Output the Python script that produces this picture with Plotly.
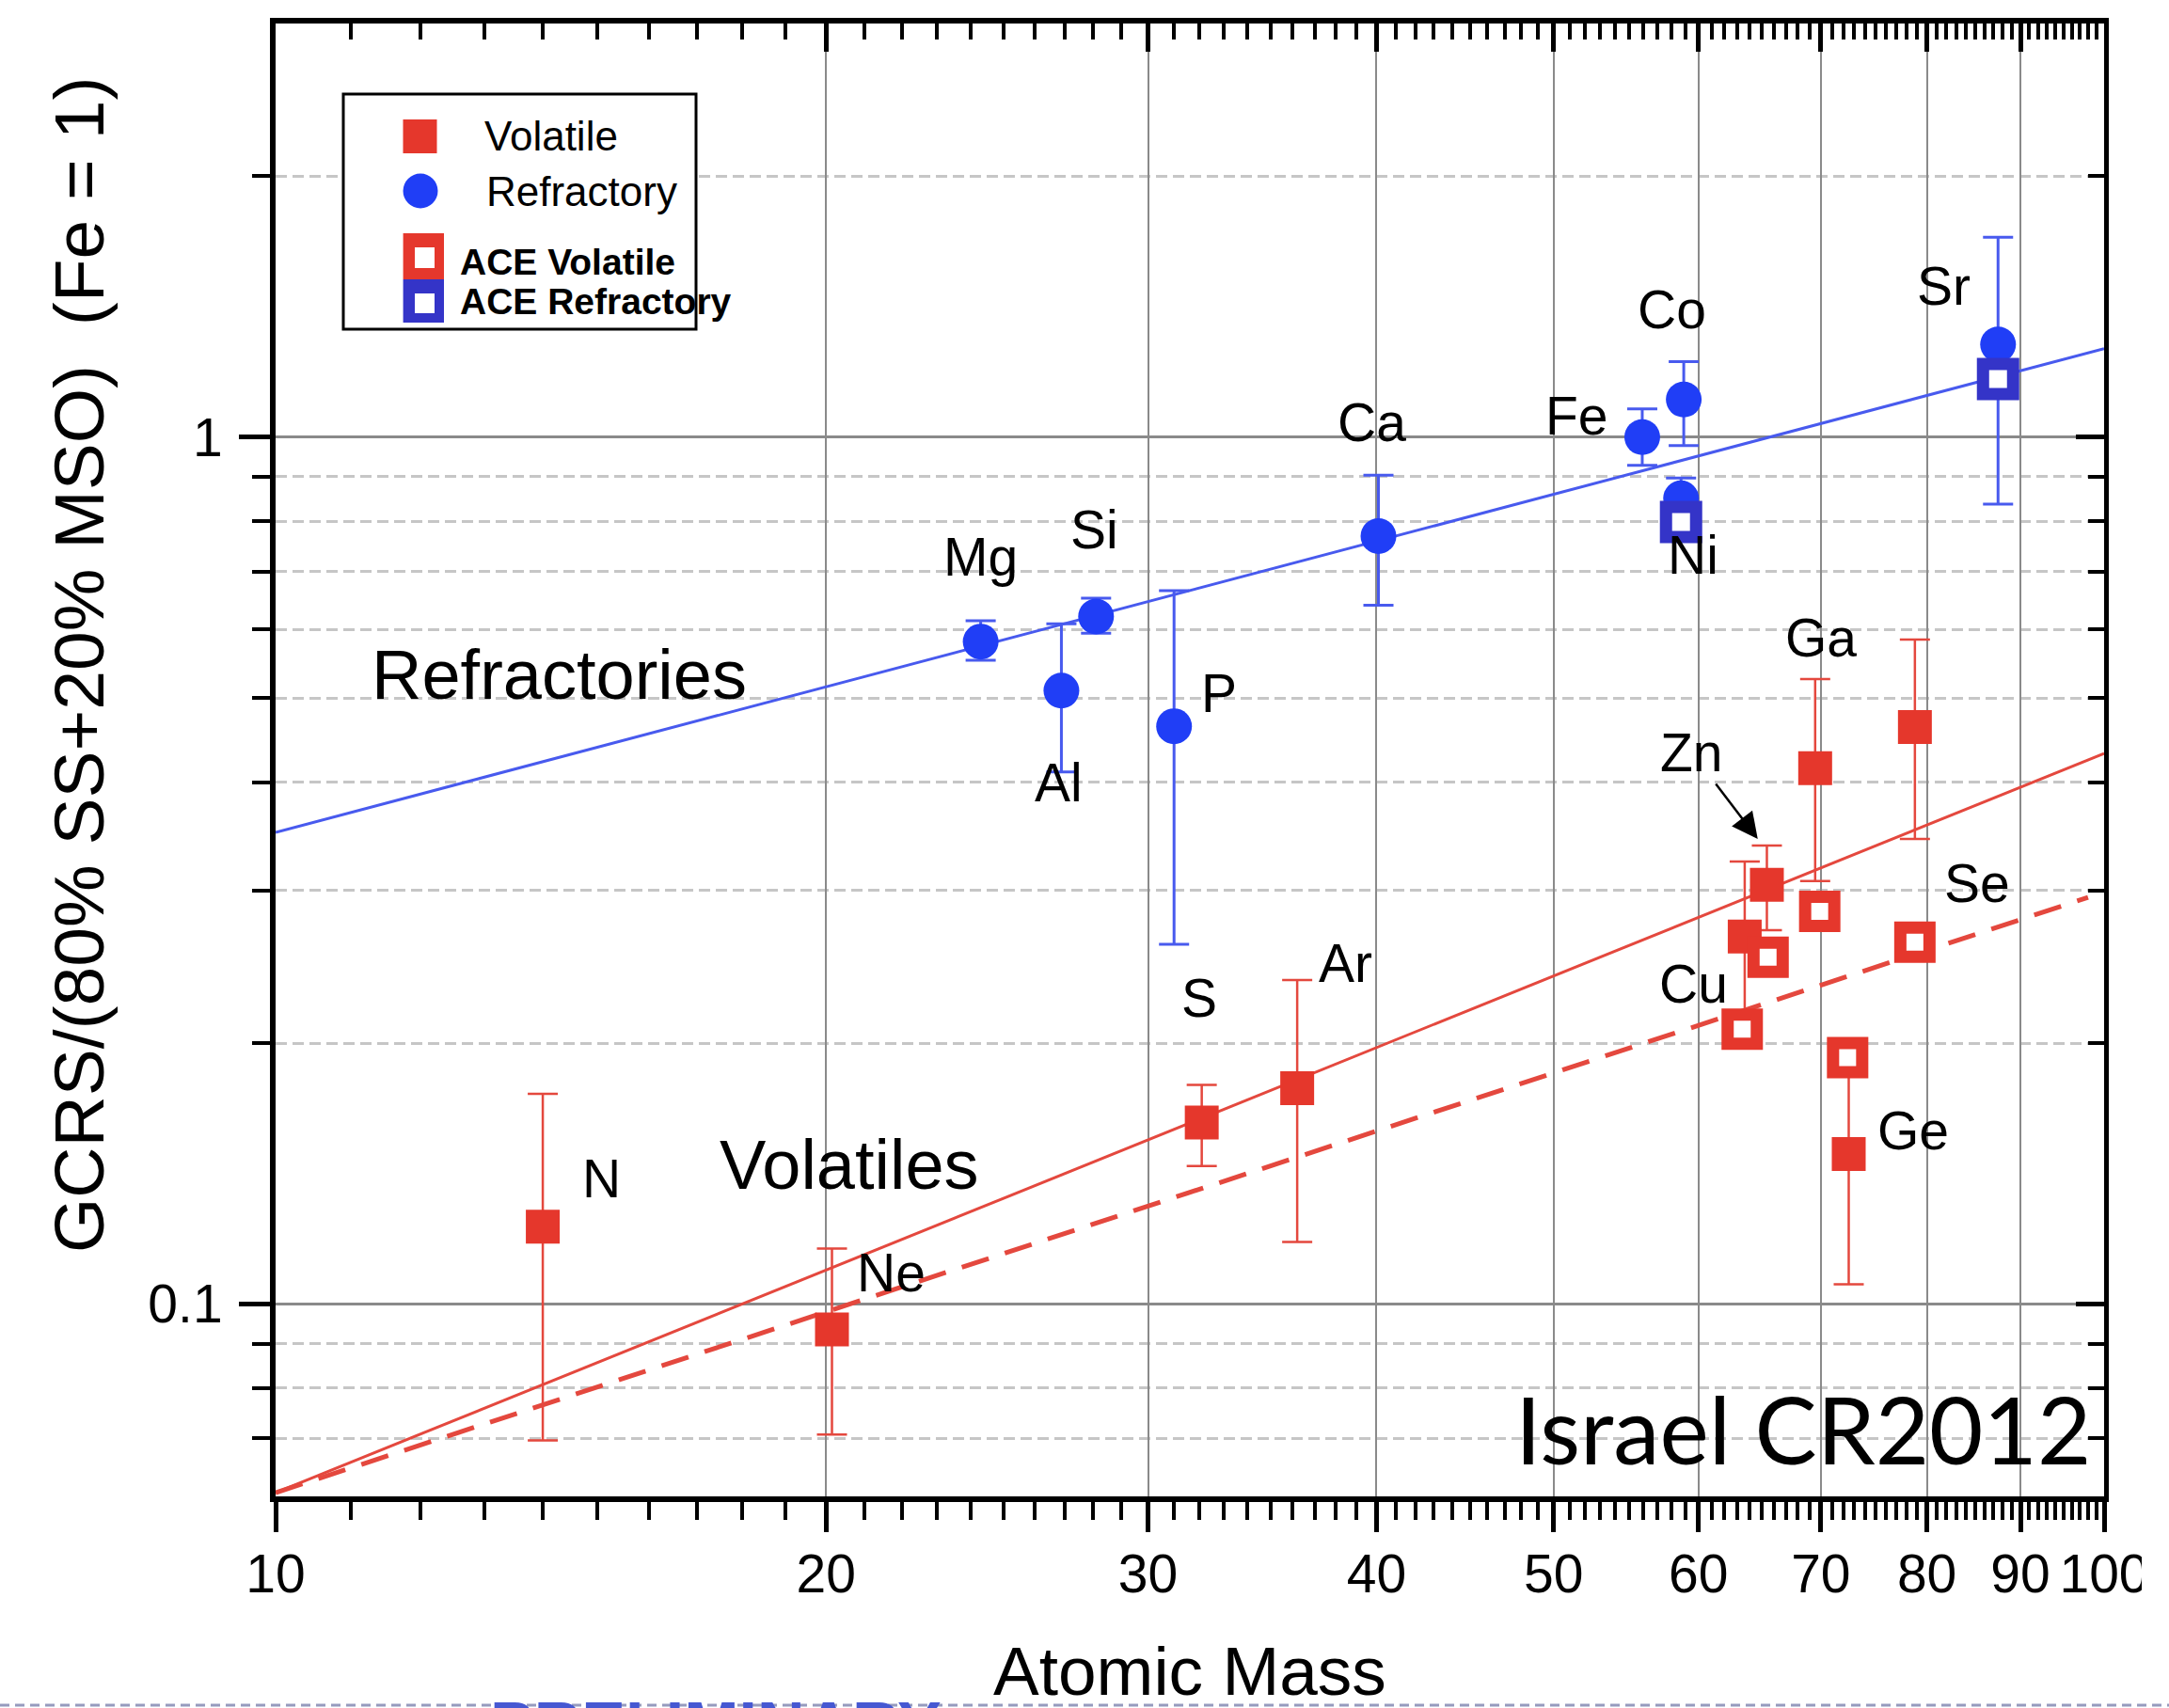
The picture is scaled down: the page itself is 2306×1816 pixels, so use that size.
import numpy as np
import plotly.graph_objects as go

# ---------------- data ----------------
# power-law fits (values read at the ends of each line)
fit_mass = [10, 100]
fit_refractory = [0.350, 1.265]
fit_volatile = [0.0606, 0.4317]
fit_ace_mass = [10, 98]
fit_ace_volatile = [0.0606, 0.2945]

# GCRS refractory elements
refr_elem = ["Mg", "Al", "Si", "P", "Ca", "Fe", "Co", "Ni", "Sr"]
refr_mass = [24.3, 26.9, 28.1, 31.0, 40.1, 55.9, 58.9, 58.7, 87.5]
refr_val = [0.581, 0.510, 0.621, 0.464, 0.769, 1.000, 1.105, 0.850, 1.279]
refr_hi = [0.614, 0.609, 0.652, 0.665, 0.904, 1.078, 1.222, 0.897, 1.700]
refr_lo = [0.553, 0.411, 0.594, 0.260, 0.640, 0.928, 0.978, 0.800, 0.837]

# GCRS volatile elements
vol_elem = ["N", "Ne", "S", "Ar", "Cu", "Zn", "Ga", "Ge", "Se"]
vol_mass = [14.0, 20.15, 32.1, 36.2, 63.6, 65.4, 69.5, 72.5, 78.8]
vol_val = [0.1228, 0.0935, 0.162, 0.1774, 0.2655, 0.3046, 0.415, 0.149, 0.463]
vol_hi = [0.1748, 0.1159, 0.179, 0.2364, 0.324, 0.338, 0.526, 0.192, 0.584]
vol_lo = [0.0696, 0.0707, 0.1443, 0.1179, 0.215, 0.270, 0.3076, 0.1054, 0.344]

# ACE measurements
ace_vol_elem = ["Cu", "Zn", "Ga", "Ge", "Se"]
ace_vol_mass = [63.4, 65.5, 69.9, 72.4, 78.8]
ace_vol_val = [0.2075, 0.2513, 0.2837, 0.1924, 0.2615]

ace_ref_elem = ["Ni", "Sr"]
ace_ref_mass = [58.7, 87.5]
ace_ref_val = [0.798, 1.167]

# axis ticks
x_ticks = [10, 20, 30, 40, 50, 60, 70, 80, 90, 100]
x_ticktext = ["10", "20", "30", "40", "50", "60", "70", "80", "90", "100"]
x_minor = [m for m in range(11, 100) if m % 10 != 0]
y_ticks = [0.1, 1]
y_ticktext = ["0.1", "1"]
y_minor = [0.07, 0.08, 0.09, 0.2, 0.3, 0.4, 0.5, 0.6, 0.7, 0.8, 0.9, 2]

# element label placement (mass, value)
label_text = ["Mg", "Si", "Al", "P", "Ca", "Fe", "Co", "Ni", "Sr",
              "Ga", "Se", "Cu", "Ge", "S", "Ar", "N", "Ne"]
label_mass = [24.31, 28.05, 26.8, 32.8, 39.75, 51.5, 58.05, 59.6, 81.75,
              70.0, 85.2, 59.6, 78.6, 32.0, 38.45, 15.07, 21.7]
label_val = [0.727, 0.782, 0.400, 0.506, 1.041, 1.059, 1.405, 0.731, 1.496,
             0.5875, 0.306, 0.2342, 0.1585, 0.2256, 0.2474, 0.1395, 0.1086]

# ---------------- styling ----------------
FONT = "Liberation Sans, Arial, sans-serif"
RED = "rgb(229,55,44)"
RED_LINE = "rgb(228,72,62)"
BLUE = "rgb(32,62,246)"
BLUE_LINE = "rgb(72,90,238)"
ACE_BLUE = "rgb(52,52,200)"

W, H = 2306, 1816
PLOT_L, PLOT_R, PLOT_T, PLOT_B = 293, 2237, 25, 1591


def px(X):
    return (X - PLOT_L) / (PLOT_R - PLOT_L)


def py(Y):
    return (PLOT_B - Y) / (PLOT_B - PLOT_T)


def err(val, hi, lo):
    plus = [h - v for h, v in zip(hi, val)]
    minus = [v - l for v, l in zip(val, lo)]
    return plus, minus


fig = go.Figure()

# fit lines
fig.add_trace(go.Scatter(x=fit_mass, y=fit_refractory, mode="lines",
                         line=dict(color=BLUE_LINE, width=3), hoverinfo="skip"))
fig.add_trace(go.Scatter(x=fit_mass, y=fit_volatile, mode="lines",
                         line=dict(color=RED_LINE, width=3), hoverinfo="skip"))
fig.add_trace(go.Scatter(x=fit_ace_mass, y=fit_ace_volatile, mode="lines",
                         line=dict(color=RED_LINE, width=5, dash="30px,18px"),
                         hoverinfo="skip"))

# GCRS volatiles
p, m = err(vol_val, vol_hi, vol_lo)
fig.add_trace(go.Scatter(
    x=vol_mass, y=vol_val, mode="markers", text=vol_elem,
    marker=dict(symbol="square", size=36, color=RED),
    error_y=dict(type="data", array=p, arrayminus=m, color=RED_LINE,
                 thickness=2.5, width=16)))

# GCRS refractories
p, m = err(refr_val, refr_hi, refr_lo)
fig.add_trace(go.Scatter(
    x=refr_mass, y=refr_val, mode="markers", text=refr_elem,
    marker=dict(symbol="circle", size=38, color=BLUE),
    error_y=dict(type="data", array=p, arrayminus=m, color=BLUE_LINE,
                 thickness=3, width=16)))

# ACE volatiles
fig.add_trace(go.Scatter(
    x=ace_vol_mass, y=ace_vol_val, mode="markers", text=ace_vol_elem,
    marker=dict(symbol="square", size=31, color="white",
                line=dict(color=RED, width=13))))

# ACE refractories
fig.add_trace(go.Scatter(
    x=ace_ref_mass, y=ace_ref_val, mode="markers", text=ace_ref_elem,
    marker=dict(symbol="square", size=32, color="white",
                line=dict(color=ACE_BLUE, width=13))))

# carrier for the mirrored top/right axes
fig.add_trace(go.Scatter(x=[10], y=[1], xaxis="x2", yaxis="y2", mode="markers",
                         marker=dict(opacity=0), hoverinfo="skip"))

tickfont = dict(family=FONT, size=57, color="black")
xr = [1, 2]
yr = [np.log10(0.06), np.log10(3)]

fig.update_layout(
    width=W, height=H,
    margin=dict(l=PLOT_L, r=W - PLOT_R, t=PLOT_T, b=H - PLOT_B),
    paper_bgcolor="white", plot_bgcolor="white",
    showlegend=False,
    xaxis=dict(
        type="log", range=xr, showline=True, linecolor="black", linewidth=6,
        ticks="outside", ticklen=32, tickwidth=5, tickcolor="black",
        tickmode="array", tickvals=x_ticks, ticktext=x_ticktext, tickfont=tickfont,
        ticklabelstandoff=-4,
        showgrid=True, gridcolor="#8a8a8a", gridwidth=2, zeroline=False,
        minor=dict(tickmode="array", tickvals=x_minor, ticks="outside",
                   ticklen=19, tickwidth=4, tickcolor="black", showgrid=False),
    ),
    xaxis2=dict(
        type="log", range=xr, overlaying="x", side="top", showline=True,
        linecolor="black", linewidth=6, ticks="inside", ticklen=30, tickwidth=5,
        tickcolor="black", tickmode="array", tickvals=x_ticks,
        showticklabels=False, showgrid=False, zeroline=False,
        minor=dict(tickmode="array", tickvals=x_minor, ticks="inside",
                   ticklen=17, tickwidth=4, tickcolor="black", showgrid=False),
    ),
    yaxis=dict(
        type="log", range=yr, showline=True, linecolor="black", linewidth=6,
        ticks="outside", ticklen=33, tickwidth=5, tickcolor="black",
        tickmode="array", tickvals=y_ticks, ticktext=y_ticktext, tickfont=tickfont,
        ticklabelstandoff=6,
        showgrid=True, gridcolor="#8a8a8a", gridwidth=3, zeroline=False,
        minor=dict(tickmode="array", tickvals=y_minor, ticks="outside",
                   ticklen=19, tickwidth=4, tickcolor="black", showgrid=True,
                   gridcolor="#c6c6c6", gridwidth=3, griddash="12px,6px"),
    ),
    yaxis2=dict(
        type="log", range=yr, overlaying="y", side="right", showline=True,
        linecolor="black", linewidth=5, ticks="inside", ticklen=30, tickwidth=5,
        tickcolor="black", tickmode="array", tickvals=y_ticks,
        showticklabels=False, showgrid=False, zeroline=False,
        minor=dict(tickmode="array", tickvals=y_minor, ticks="inside",
                   ticklen=17, tickwidth=4, tickcolor="black", showgrid=False),
    ),
)

annotations = []

# element labels
for t, mx, vy in zip(label_text, label_mass, label_val):
    annotations.append(dict(x=np.log10(mx), y=np.log10(vy), xref="x", yref="y",
                            xanchor="center", yanchor="middle",
                            text=t, showarrow=False,
                            font=dict(family=FONT, size=57, color="black")))

# Zn label with pointer
annotations.append(dict(x=np.log10(64.65), y=np.log10(0.344), xref="x", yref="y",
                        text="Zn", showarrow=True, ax=-70, ay=-92,
                        arrowhead=2, arrowsize=2.2, arrowwidth=2.5,
                        arrowcolor="black",
                        font=dict(family=FONT, size=57, color="black")))

# group labels
annotations.append(dict(x=np.log10(14.3), y=np.log10(0.532), xref="x", yref="y",
                        xanchor="center", yanchor="middle",
                        text="Refractories", showarrow=False,
                        font=dict(family=FONT, size=74, color="black")))
annotations.append(dict(x=np.log10(20.6), y=np.log10(0.1448), xref="x", yref="y",
                        xanchor="center", yanchor="middle",
                        text="Volatiles", showarrow=False,
                        font=dict(family=FONT, size=74, color="black")))
annotations.append(dict(x=np.log10(68.45), y=np.log10(0.0719), xref="x", yref="y",
                        xanchor="center", yanchor="middle",
                        text="Israel CR2012", showarrow=False,
                        font=dict(family="Lato, Open Sans, sans-serif", size=99,
                                  color="black")))

# axis titles
annotations.append(dict(x=px(1265), y=py(1776), xref="paper", yref="paper",
                        xanchor="center", yanchor="middle",
                        text="Atomic Mass", showarrow=False,
                        font=dict(family=FONT, size=73, color="black")))
annotations.append(dict(x=px(84), y=py(707), xref="paper", yref="paper",
                        xanchor="center", yanchor="middle",
                        text="GCRS/(80% SS+20% MSO) \u00a0(Fe = 1)",
                        textangle=-90, showarrow=False,
                        font=dict(family=FONT, size=75, color="black")))

# legend entries
legend_rows = [
    ("Volatile", 513, 144, 44, False),
    ("Refractory", 515, 203, 44, False),
    ("ACE Volatile", 487, 278, 39, True),
    ("ACE Refractory", 487, 321, 39, True),
]
for t, X, Y, size, bold in legend_rows:
    annotations.append(dict(x=px(X), y=py(Y), xref="paper", yref="paper",
                            xanchor="left", yanchor="middle", showarrow=False,
                            text=f"<b>{t}</b>" if bold else t,
                            font=dict(family=FONT, size=size, color="black")))

# slide footer (runs off the bottom edge)
annotations.append(dict(x=px(761), y=py(1794), xref="paper", yref="paper",
                        xanchor="center", yanchor="top", showarrow=False,
                        text="<b>PRELIMINARY</b>",
                        font=dict(family=FONT, size=70, color="rgb(70,88,210)")))

fig.update_layout(annotations=annotations)


def rect(x0, y0, x1, y1, **kw):
    return dict(type="rect", xref="paper", yref="paper", layer="above",
                x0=px(x0), x1=px(x1), y0=py(y0), y1=py(y1), **kw)


shapes = [
    # legend frame
    rect(365, 100, 740, 350, line=dict(color="black", width=3), fillcolor="white"),
    # legend swatches
    rect(428.5, 127, 464.5, 163, line=dict(width=0), fillcolor=RED),
    dict(type="circle", xref="paper", yref="paper", layer="above",
         x0=px(428.5), x1=px(465.5), y0=py(184.5), y1=py(221.5),
         line=dict(width=0), fillcolor=BLUE),
    rect(428.6, 248, 472, 297, line=dict(width=0), fillcolor=RED),
    rect(441, 263, 462, 285, line=dict(width=0), fillcolor="white"),
    rect(428.6, 297, 472, 343, line=dict(width=0), fillcolor=ACE_BLUE),
    rect(441, 312, 462, 333, line=dict(width=0), fillcolor="white"),
    # cropped right edge of the tick label row
    rect(2277, 1600, 2306, 1730, line=dict(width=0), fillcolor="white"),
    # footer rule
    dict(type="line", xref="paper", yref="paper", layer="below",
         x0=px(0), x1=px(W), y0=py(1813), y1=py(1813),
         line=dict(color="rgb(150,155,190)", width=3, dash="10px,6px")),
]
fig.update_layout(shapes=shapes)

fig.write_html("out.html")
